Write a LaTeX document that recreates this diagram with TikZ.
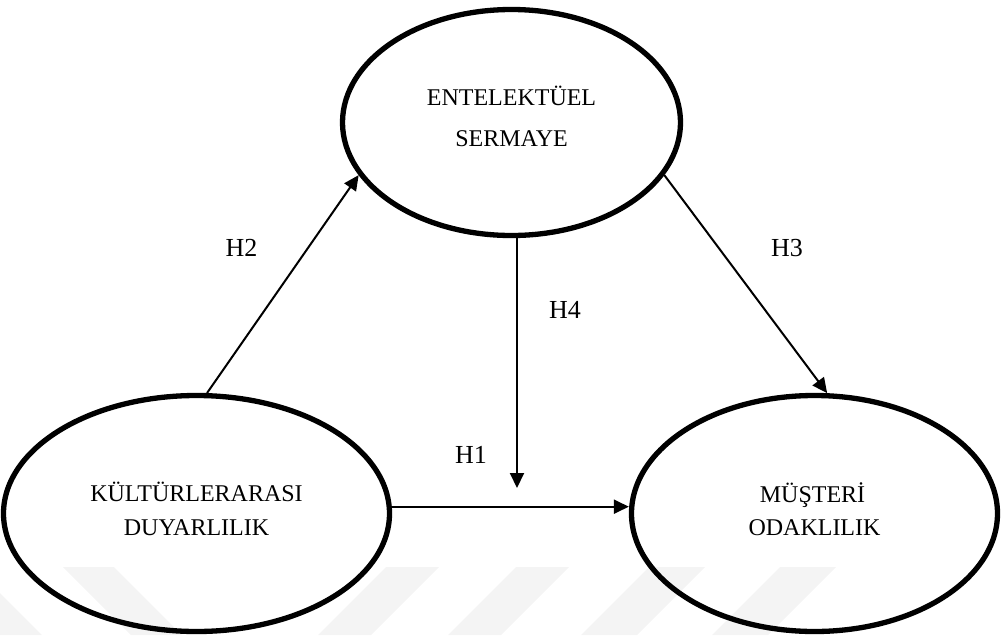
\documentclass[tikz,border=0pt]{standalone}
\usepackage{fontspec}
\setmainfont{Liberation Serif}
\usetikzlibrary{shapes.geometric,arrows.meta}
\begin{document}
\begin{tikzpicture}[x=1pt,y=-1pt,
  oval/.style={draw, ellipse, line width=5.3pt, inner sep=0pt},
  ovaltext/.style={align=center, inner sep=0pt},
  link/.style={line width=2pt, -{Triangle[length=15pt,width=14pt]}},
  hlabel/.style={font=\fontsize{26}{30}\selectfont, inner sep=0pt},
  wmstripe/.style={fill=gray!9, draw=none}]
\useasboundingbox (0,0) rectangle (1002,635);
% faint watermark
\begin{scope}
\clip (0,0) rectangle (1002,635);
\fill[wmstripe] (-78,567) -- (-26,567) -- (42,635) -- (-10,635) -- cycle;
\fill[wmstripe] (63,567) -- (114,567) -- (182,635) -- (131,635) -- cycle;
\fill[wmstripe] (386,567) -- (439,567) -- (371,635) -- (318,635) -- cycle;
\fill[wmstripe] (516,567) -- (569,567) -- (501,635) -- (448,635) -- cycle;
\fill[wmstripe] (649,567) -- (705,567) -- (637,635) -- (581,635) -- cycle;
\fill[wmstripe] (780,567) -- (836,567) -- (768,635) -- (712,635) -- cycle;
\end{scope}
% ellipses
\node[oval, minimum width=338pt, minimum height=226pt,
      label={[name=esT, ovaltext, yshift=6pt,
              font=\fontsize{24}{41.5}\selectfont]center:{ENTELEKTÜEL\\SERMAYE}}]
      (es) at (511.5,122.5) {};
\node[oval, minimum width=386pt, minimum height=236pt,
      label={[name=kdT, ovaltext, yshift=4.5pt,
              font=\fontsize{24}{33.5}\selectfont]center:{KÜLTÜRLERARASI\\DUYARLILIK}}]
      (kd) at (196.5,513.5) {};
\node[oval, minimum width=366pt, minimum height=236pt,
      label={[name=moT, ovaltext, yshift=4.5pt,
              font=\fontsize{24}{33.5}\selectfont]center:{MÜŞTERİ\rule{4pt}{0pt}\\ODAKLILIK}}]
      (mo) at (814.5,513.5) {};
% connectors
\draw[link] (kd.85) -- (es.199.2);
\draw[link] (es.-19.5) -- (mo.84);
\coordinate (h4s) at ([xshift=5.5pt]es.south);
\coordinate (h4e) at (517,488);
\draw[link] (h4s) -- (h4s |- h4e);
\draw[link] (kd.2.5) -- (kd.2.5 -| mo.west);
% labels
\node[hlabel] (h2) at (241.5,248) {H2};
\node[hlabel] (h3) at (787,248) {H3};
\node[hlabel] (h4) at (565,310) {H4};
\node[hlabel] (h1) at (471,455) {H1};
\end{tikzpicture}
\end{document}
